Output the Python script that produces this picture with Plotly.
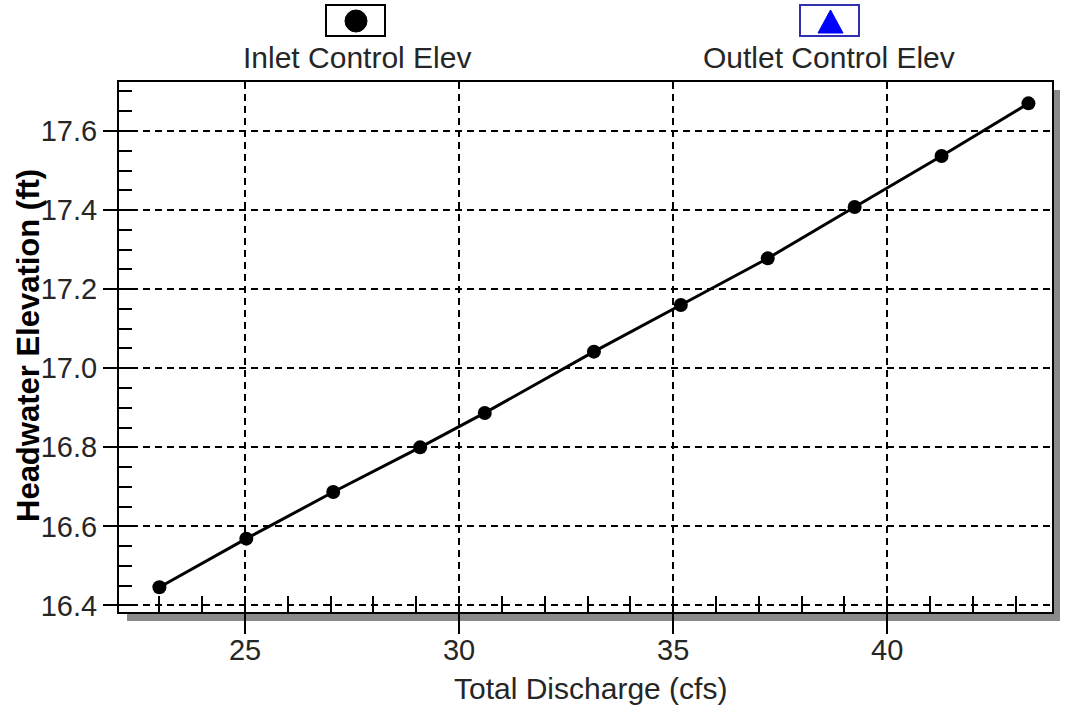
import plotly.graph_objects as go

# ---- data ----
discharge_cfs = [23.00, 25.03, 27.06, 29.09, 30.60, 33.15, 35.18, 37.21, 39.24, 41.27, 43.30]
inlet_control_elev = [16.446, 16.569, 16.687, 16.800, 16.887, 17.042, 17.160, 17.278, 17.408, 17.537, 17.670]
outlet_control_x = []
outlet_control_elev = []

x_tick_vals = [25, 30, 35, 40]
y_tick_vals = [16.4, 16.6, 16.8, 17.0, 17.2, 17.4, 17.6]
y_tick_text = ["16.4", "16.6", "16.8", "17.0", "17.2", "17.4", "17.6"]

x_title = "Total Discharge (cfs)"
y_title = "Headwater Elevation (ft)"
series_names = ["Inlet Control Elev", "Outlet Control Elev"]

W, H = 1075, 705
# plot frame in pixels
L, R, T, B = 119, 1052, 82, 612


def px(x):
    return x / W


def py(y):
    return 1 - y / H


FONT = "Liberation Sans, Arial, sans-serif"
TXT = "#262626"

fig = go.Figure()
fig.add_trace(go.Scatter(
    x=discharge_cfs, y=inlet_control_elev, mode="lines+markers",
    name=series_names[0],
    line=dict(color="black", width=3),
    marker=dict(symbol="circle", size=14, color="black"),
    showlegend=False, cliponaxis=False,
))
fig.add_trace(go.Scatter(
    x=outlet_control_x, y=outlet_control_elev, mode="lines+markers",
    name=series_names[1],
    line=dict(color="#0000ff", width=3),
    marker=dict(symbol="triangle-up", size=13, color="#0000ff"),
    showlegend=False,
))

shapes = []
# drop shadow (right and bottom)
shapes.append(dict(type="rect", xref="paper", yref="paper",
                   x0=px(R + 1), x1=px(R + 8), y0=py(B + 9), y1=py(T + 8),
                   fillcolor="#8a8a8a", line=dict(width=0), layer="below"))
shapes.append(dict(type="rect", xref="paper", yref="paper",
                   x0=px(L + 8), x1=px(R + 8), y0=py(B + 9), y1=py(B + 1),
                   fillcolor="#8a8a8a", line=dict(width=0), layer="below"))

# custom legend boxes
shapes.append(dict(type="rect", xref="paper", yref="paper",
                   x0=px(326), x1=px(385), y0=py(36), y1=py(5),
                   fillcolor="white", line=dict(color="black", width=2)))
shapes.append(dict(type="circle", xref="paper", yref="paper",
                   x0=px(345), x1=px(367), y0=py(32), y1=py(10),
                   fillcolor="black", line=dict(color="black", width=1)))
shapes.append(dict(type="rect", xref="paper", yref="paper",
                   x0=px(800), x1=px(859), y0=py(36), y1=py(5),
                   fillcolor="white", line=dict(color="#3030b0", width=2)))
tri = "M {:.5f} {:.5f} L {:.5f} {:.5f} L {:.5f} {:.5f} Z".format(
    px(818), py(33), px(843), py(33), px(830.5), py(10))
shapes.append(dict(type="path", xref="paper", yref="paper", path=tri,
                   fillcolor="#0000ff", line=dict(color="#0000ff", width=1)))

annotations = [
    dict(text=series_names[0], x=px(356.5), y=py(57), xref="paper", yref="paper",
         showarrow=False, xanchor="center", yanchor="middle",
         font=dict(family=FONT, size=30, color=TXT)),
    dict(text=series_names[1], x=px(829), y=py(57), xref="paper", yref="paper",
         showarrow=False, xanchor="center", yanchor="middle",
         font=dict(family=FONT, size=30, color=TXT)),
    dict(text=x_title, x=px((L + R) / 2 + 5), y=py(688), xref="paper", yref="paper",
         showarrow=False, xanchor="center", yanchor="middle",
         font=dict(family=FONT, size=30, color=TXT)),
    dict(text="<b>" + y_title + "</b>", x=px(28), y=py(346), xref="paper", yref="paper",
         showarrow=False, xanchor="center", yanchor="middle", textangle=-90,
         font=dict(family=FONT, size=31, color="black")),
]

fig.update_layout(
    width=W, height=H,
    template="none",
    margin=dict(l=0, r=0, t=0, b=0, pad=0),
    paper_bgcolor="white", plot_bgcolor="white",
    showlegend=False,
    shapes=shapes, annotations=annotations,
    xaxis=dict(
        domain=[px(L), px(R)], range=[22.056, 43.85],
        tickmode="array", tickvals=x_tick_vals,
        ticks="outside", ticklen=20, tickwidth=2, tickcolor="black",
        ticklabelstandoff=-9,
        tickfont=dict(family=FONT, size=29, color=TXT),
        showgrid=True, gridcolor="black", gridwidth=1.6, griddash="7px,5px",
        showline=True, linecolor="black", linewidth=2, mirror=True,
        zeroline=False, automargin=False,
        minor=dict(dtick=1, tick0=0, ticks="inside", ticklen=16, tickwidth=2,
                   tickcolor="black", showgrid=False),
    ),
    yaxis=dict(
        domain=[py(B), py(T)], range=[16.3835, 17.724],
        tickmode="array", tickvals=y_tick_vals, ticktext=y_tick_text,
        ticks="outside", ticklen=14, tickwidth=2, tickcolor="black",
        tickfont=dict(family=FONT, size=29, color=TXT),
        showgrid=True, gridcolor="black", gridwidth=1.6, griddash="7px,5px",
        showline=True, linecolor="black", linewidth=2, mirror=True,
        zeroline=False, automargin=False,
        minor=dict(dtick=0.05, tick0=0, ticks="inside", ticklen=13, tickwidth=2,
                   tickcolor="black", showgrid=False),
    ),
)

fig.write_html("out.html")
